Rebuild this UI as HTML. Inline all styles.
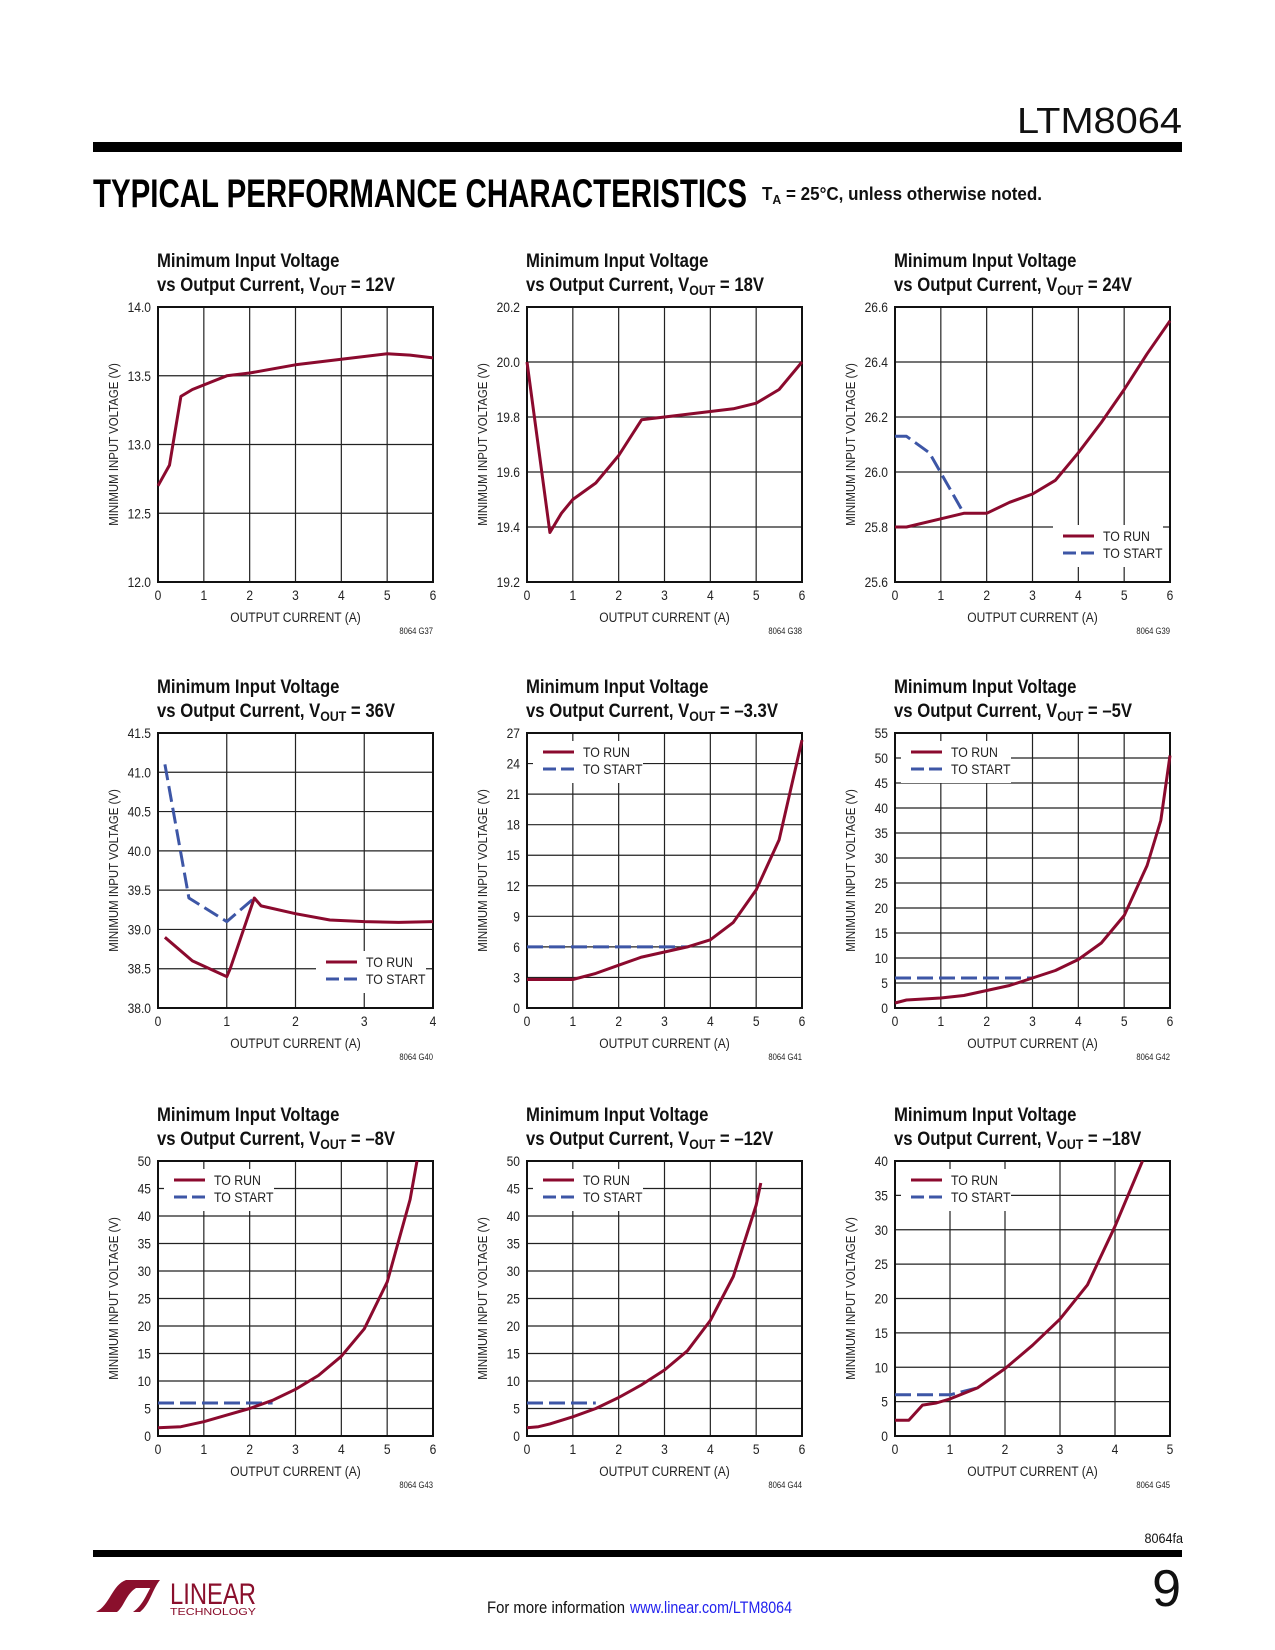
<!DOCTYPE html>
<html><head><meta charset="utf-8">
<style>
html,body{margin:0;padding:0;background:#fff;}
svg{display:block;font-family:"Liberation Sans",sans-serif;}
</style></head>
<body>
<svg id="page" width="1275" height="1650" viewBox="0 0 1275 1650" xmlns="http://www.w3.org/2000/svg">
<rect width="1275" height="1650" fill="#fff"/>
<text x="1182" y="133" font-size="36" text-anchor="end" textLength="165" lengthAdjust="spacingAndGlyphs" fill="#111">LTM8064</text>
<rect x="93" y="142" width="1089" height="10" fill="#000"/>
<text x="93" y="207" font-size="40" font-weight="bold" textLength="654" lengthAdjust="spacingAndGlyphs" fill="#000">TYPICAL PERFORMANCE CHARACTERISTICS</text>
<text x="762" y="200" font-size="18" font-weight="bold" textLength="280" lengthAdjust="spacingAndGlyphs" fill="#111">T<tspan font-size="13" dy="4">A</tspan><tspan dy="-4"> = 25°C, unless otherwise noted.</tspan></text>
<g id="charts"></g>
<text x="1183" y="1543" font-size="14" text-anchor="end" fill="#111" transform="translate(1183,0) scale(0.9,1) translate(-1183,0)">8064fa</text>
<rect x="93" y="1550" width="1089" height="7" fill="#000"/>
<text x="1181" y="1606" font-size="52" text-anchor="end" fill="#111">9</text>
<g>
<path d="M96 1612 C110 1605 112 1585 126 1580 L156 1580 L153 1588 L136 1588 C126 1594 124 1607 117 1612 Z" fill="#8a0f2c"/>
<path d="M140 1612 C150 1604 152 1590 160 1580 L146 1580 L144 1585 L152 1585 C146 1595 143 1605 133 1612 Z" fill="#8a0f2c"/>
<text x="170" y="1604" font-size="30" fill="#8a0f2c" textLength="86" lengthAdjust="spacingAndGlyphs">LINEAR</text>
<text x="170" y="1615" font-size="10" fill="#8a0f2c" textLength="86" lengthAdjust="spacingAndGlyphs">TECHNOLOGY</text>
</g>
<text x="487" y="1613" font-size="17" fill="#111" textLength="138" lengthAdjust="spacingAndGlyphs">For more information</text>
<text x="630" y="1613" font-size="17" fill="#2222ee" textLength="162" lengthAdjust="spacingAndGlyphs">www.linear.com/LTM8064</text>
</svg>
<script>
// ---- chart data ----
var c1X=[0,0.25,0.5,0.75,1.5,2,3,4,5,5.5,6];
var c1Run=[12.7,12.85,13.35,13.4,13.5,13.52,13.58,13.62,13.66,13.65,13.63];
var c1YTicks=["12.0","12.5","13.0","13.5","14.0"];
var c2X=[0,0.5,0.75,1,1.5,2,2.5,3,4,4.5,5,5.5,6];
var c2Run=[20.0,19.38,19.45,19.5,19.56,19.66,19.79,19.80,19.82,19.83,19.85,19.9,20.0];
var c2YTicks=["19.2","19.4","19.6","19.8","20.0","20.2"];
var c3X=[0,0.25,1,1.5,2,2.5,3,3.5,4,4.5,5,5.5,6];
var c3Run=[25.8,25.8,25.83,25.85,25.85,25.89,25.92,25.97,26.07,26.18,26.3,26.43,26.55];
var c3StartX=[0,0.25,0.75,1.5];
var c3Start=[26.13,26.13,26.07,25.85];
var c3YTicks=["25.6","25.8","26.0","26.2","26.4","26.6"];
var c4X=[0.1,0.5,1,1.05,1.4,1.5,2,2.5,3,3.5,4];
var c4Run=[38.9,38.6,38.4,38.5,39.4,39.3,39.2,39.12,39.1,39.09,39.1];
var c4StartX=[0.1,0.45,1,1.4];
var c4Start=[41.1,39.4,39.1,39.4];
var c4YTicks=["38.0","38.5","39.0","39.5","40.0","40.5","41.0","41.5"];
var c5X=[0,0.5,1,1.5,2,2.5,3,3.5,4,4.5,5,5.5,6];
var c5Run=[2.8,2.8,2.8,3.4,4.2,5,5.5,6,6.7,8.4,11.6,16.5,26.3];
var c5StartX=[0,3.5];
var c5Start=[6,6];
var c5YTicks=["0","3","6","9","12","15","18","21","24","27"];
var c6X=[0,0.25,1,1.5,2,2.5,3,3.5,4,4.5,5,5.5,5.8,6];
var c6Run=[1,1.6,2,2.5,3.5,4.5,6,7.5,9.7,13,18.5,28.5,37.5,50.5];
var c6StartX=[0,3];
var c6Start=[6,6];
var c6YTicks=["0","5","10","15","20","25","30","35","40","45","50","55"];
var c7X=[0,0.5,1,1.5,2,2.5,3,3.5,4,4.5,5,5.5,5.65];
var c7Run=[1.5,1.7,2.6,3.8,5,6.5,8.5,11,14.5,19.5,28,43,50];
var c7StartX=[0,2.5];
var c7Start=[6,6];
var c7YTicks=["0","5","10","15","20","25","30","35","40","45","50"];
var c8X=[0,0.25,0.5,1,1.5,2,2.5,3,3.5,4,4.5,5,5.1];
var c8Run=[1.5,1.7,2.2,3.5,5,7,9.3,12,15.5,21,29,42,46];
var c8StartX=[0,1.5];
var c8Start=[6,6];
var c8YTicks=["0","5","10","15","20","25","30","35","40","45","50"];
var c9X=[0,0.25,0.5,0.75,1,1.5,2,2.5,3,3.5,4,4.5];
var c9Run=[2.3,2.3,4.5,4.8,5.4,7,9.8,13.2,17,22,30.5,40];
var c9StartX=[0,1,1.5];
var c9Start=[6,6,7];
var c9YTicks=["0","5","10","15","20","25","30","35","40"];
var xTicks6=["0","1","2","3","4","5","6"];
var xTicks4=["0","1","2","3","4"];
var xTicks5=["0","1","2","3","4","5"];
var vouts=["12V","18V","24V","36V","\u20133.3V","\u20135V","\u20138V","\u201312V","\u201318V"];
var codes=["8064 G37","8064 G38","8064 G39","8064 G40","8064 G41","8064 G42","8064 G43","8064 G44","8064 G45"];

var NS="http://www.w3.org/2000/svg";
var RED="#8b0a2e",BLUE="#3d56a6";
function mk(tag,attrs,parent){var e=document.createElementNS(NS,tag);for(var k in attrs)e.setAttribute(k,attrs[k]);parent.appendChild(e);return e;}
function ntext(parent,x,y,str,size,anchor,sx,weight){
  var t=mk('text',{transform:'translate('+x+','+y+') scale('+sx+',1)','font-size':size,'text-anchor':anchor||'start',fill:'#222'},parent);
  if(weight)t.setAttribute('font-weight',weight);
  t.textContent=str;return t;}

var cols=[158,527,895],rows=[307,733,1161],W=275,H=275;
var charts=[
 {x:c1X,run:c1Run,yt:c1YTicks,xt:xTicks6,leg:null},
 {x:c2X,run:c2Run,yt:c2YTicks,xt:xTicks6,leg:null},
 {x:c3X,run:c3Run,sx:c3StartX,st:c3Start,yt:c3YTicks,xt:xTicks6,leg:'br'},
 {x:c4X,run:c4Run,sx:c4StartX,st:c4Start,yt:c4YTicks,xt:xTicks4,leg:'br'},
 {x:c5X,run:c5Run,sx:c5StartX,st:c5Start,yt:c5YTicks,xt:xTicks6,leg:'tl'},
 {x:c6X,run:c6Run,sx:c6StartX,st:c6Start,yt:c6YTicks,xt:xTicks6,leg:'tl'},
 {x:c7X,run:c7Run,sx:c7StartX,st:c7Start,yt:c7YTicks,xt:xTicks6,leg:'tl'},
 {x:c8X,run:c8Run,sx:c8StartX,st:c8Start,yt:c8YTicks,xt:xTicks6,leg:'tl'},
 {x:c9X,run:c9Run,sx:c9StartX,st:c9Start,yt:c9YTicks,xt:xTicks5,leg:'tl'}
];
var root=document.getElementById('charts');
charts.forEach(function(c,i){
  var L=cols[i%3],T=rows[Math.floor(i/3)],R=L+W,B=T+H;
  var g=mk('g',{},root);
  
  
  var ymin=parseFloat(c.yt[0]),ymax=parseFloat(c.yt[c.yt.length-1]);
  var xmax=parseFloat(c.xt[c.xt.length-1]);
  function sx(v){return L+v/xmax*W;}
  function sy(v){return B-(v-ymin)/(ymax-ymin)*H;}
  var tg=mk('g',{transform:'translate('+(L-1)+',0) scale(0.88,1)'},g);
  
  
  var t1=mk('text',{x:0,y:T-40,'font-size':19,'font-weight':'bold',fill:'#111'},tg);t1.textContent='Minimum Input Voltage';
  var t2=mk('text',{x:0,y:T-16,'font-size':19,'font-weight':'bold',fill:'#111'},tg);
  t2.appendChild(document.createTextNode('vs Output Current, V'));
  var sub=mk('tspan',{'font-size':14,dy:4},t2);sub.textContent='OUT';
  var rest=mk('tspan',{dy:-4},t2);rest.textContent=' = '+vouts[i];
  var gg=mk('g',{stroke:'#222','stroke-width':1.2},g);
  
  
  c.yt.forEach(function(v){var y=sy(parseFloat(v));mk('line',{x1:L,x2:R,y1:y,y2:y},gg);});
  c.xt.forEach(function(v){var x=sx(parseFloat(v));mk('line',{x1:x,x2:x,y1:T,y2:B},gg);});
  var fr=mk('rect',{x:L,y:T,width:W,height:H,fill:'none',stroke:'#111','stroke-width':2},g);
  
  
  c.yt.forEach(function(v){var tl=ntext(g,L-7,sy(parseFloat(v))+5,v,14,'end',0.86);
    
    });
  c.xt.forEach(function(v){var tl=ntext(g,sx(parseFloat(v)),B+18,v,14,'middle',0.86);
    
    });
  var xl=ntext(g,(L+R)/2,B+40,'OUTPUT CURRENT (A)',14,'middle',0.86);
  
  
  var yl=mk('text',{transform:'translate('+(L-40)+','+(T+H/2)+') rotate(-90) scale(0.88,1)','font-size':13,'text-anchor':'middle',fill:'#222'},g);
  yl.textContent='MINIMUM INPUT VOLTAGE (V)';
  
  
  var cd=ntext(g,R,B+52,codes[i],9,'end',0.85);
  
  
  if(c.leg){
    var lx,ly;
    if(c.leg==='br'){lx=R-117;ly=B-57;}else{lx=L+6;ly=T+8;}
    var lg=mk('g',{},g);
    
    
    mk('rect',{x:lx,y:ly,width:110,height:42,fill:'#fff'},lg);
    mk('line',{x1:lx+10,x2:lx+41,y1:ly+11,y2:ly+11,stroke:RED,'stroke-width':3},lg);
    mk('line',{x1:lx+10,x2:lx+41,y1:ly+28,y2:ly+28,stroke:BLUE,'stroke-width':3,'stroke-dasharray':'13,5'},lg);
    var a=ntext(lg,lx+50,ly+16,'TO RUN',14,'start',0.88);
    
    
    var b=ntext(lg,lx+50,ly+33,'TO START',14,'start',0.88);
    
    
  }
  if(c.sx){
    var ps=c.sx.map(function(v,k){return sx(v).toFixed(1)+','+sy(c.st[k]).toFixed(1);}).join(' ');
    var pl=mk('polyline',{points:ps,fill:'none',stroke:BLUE,'stroke-width':3,'stroke-dasharray':'16,6','stroke-linejoin':'round'},g);
    
    
  }
  var pr=c.x.map(function(v,k){return sx(v).toFixed(1)+','+sy(c.run[k]).toFixed(1);}).join(' ');
  var rl=mk('polyline',{points:pr,fill:'none',stroke:RED,'stroke-width':3,'stroke-linejoin':'round'},g);
  
  
});
</script>
</body></html>
